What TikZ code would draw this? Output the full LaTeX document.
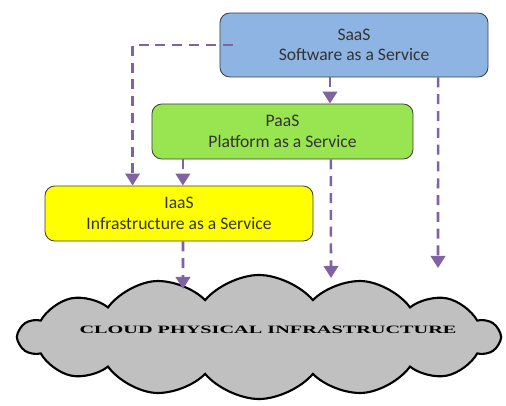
\documentclass[tikz,border=0pt]{standalone}
\usepackage{fontspec}
\setmainfont{Carlito}
\newfontfamily\cloudfont{Liberation Serif}
\usetikzlibrary{shapes.symbols,arrows.meta}

\definecolor{saasblue}{HTML}{8DB4E2}
\definecolor{paasgreen}{HTML}{98E451}
\definecolor{iaasyellow}{HTML}{FFFF00}
\definecolor{flowpurple}{HTML}{8064A2}
\definecolor{cloudgray}{HTML}{C0C0C0}
\definecolor{textgray}{HTML}{333333}

\begin{document}
\begin{tikzpicture}[x=0.025cm,y=-0.025cm]
  \tikzstyle{layer}=[draw=black!75,line width=0.6pt,rounded corners=7pt,align=center,
    text=textgray,font=\fontsize{12.5}{14.5}\selectfont,inner sep=0pt]
  \tikzstyle{flow}=[draw=flowpurple,line width=1.8pt,dash pattern=on 0.25cm off 0.17cm,
    -{Triangle[length=0.3cm,width=0.36cm]}]
  \tikzstyle{cloudy}=[cloud,cloud puffs=14,cloud puff arc=100,aspect=3.9,draw=black,
    line width=1.5pt,fill=cloudgray,inner sep=0pt]

  \useasboundingbox (0,0) rectangle (506,406);

  % Draw the cloud
  \node[cloudy,minimum width=12cm,minimum height=3.1cm] (cloud) at (259,337) {};
  \node[font=\cloudfont\bfseries\fontsize{8}{9}\selectfont,xscale=1.8] (cl)
    at (268,330) {CLOUD PHYSICAL INFRASTRUCTURE};

  % Draw the service layers
  \node[layer,fill=saasblue,minimum width=6.7cm,minimum height=1.6cm] (SaaS)
    at (354,45) {SaaS\\Software as a Service};
  \node[layer,fill=paasgreen,minimum width=6.525cm,minimum height=1.375cm] (PaaS)
    at (282.5,131.5) {PaaS\\Platform as a Service};
  \node[layer,fill=iaasyellow,minimum width=6.7cm,minimum height=1.375cm] (IaaS)
    at (179,213.5) {IaaS\\Infrastructure as a Service};

  % Ends of the arrows on the cloud
  \coordinate (s-end) at (438,268);
  \coordinate (p-end) at (331,278);
  \coordinate (i-end) at (183,289);

  % Connect the layers
  \draw[flow] ([xshift=0.325cm]SaaS.west) -| ([xshift=2.2cm]IaaS.north west);
  \draw[flow] ([xshift=-0.6cm]SaaS.south) -- ([xshift=-0.6cm]SaaS.south |- PaaS.north);
  \draw[flow] ([xshift=2.1cm]SaaS.south) -- (s-end);
  \draw[flow] ([xshift=-2.49cm]PaaS.south) -- ([xshift=-2.49cm]PaaS.south |- IaaS.north);
  \draw[flow] ([xshift=1.21cm]PaaS.south) -- (p-end);
  \draw[flow] ([xshift=0.1cm]IaaS.south) -- (i-end);
\end{tikzpicture}
\end{document}
